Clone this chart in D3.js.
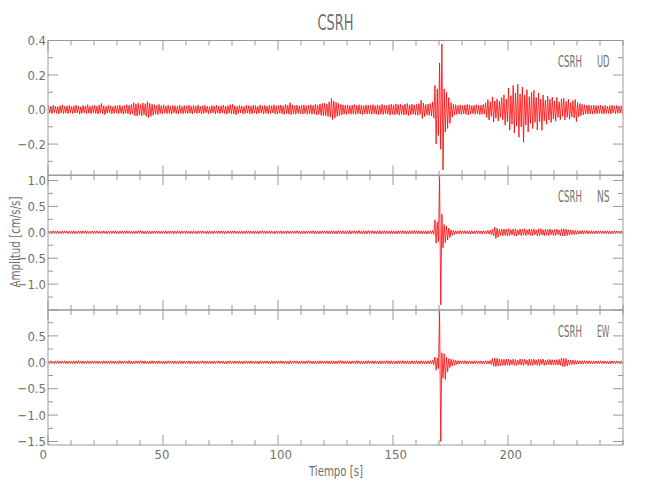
<!DOCTYPE html>
<html><head><meta charset="utf-8">
<script src="https://cdn.jsdelivr.net/npm/d3@7"></script>
<style>body{margin:0;background:#fff}</style>
</head><body><svg id="c" width="650" height="500"></svg>
<script>
// ---------- data ----------
const title = "CSRH";
const station = "CSRH";
const components = ["UD", "NS", "EW"];
const xLabel = "Tiempo [s]";
const yLabel = "Amplitud [cm/s/s]";
const binSeconds = 1;                 // each value = max/min over 1 s
const xDomain = [0, 250];
const xMajorTicks = [0, 50, 100, 150, 200];
const xMinorStep = 10;
const yDomains = [[-0.382, 0.4], [-1.5, 1.106], [-1.566, 0.99]];
const yTickLabels = [[-0.2, 0, 0.2, 0.4], [-1, -0.5, 0, 0.5, 1], [-1.5, -1, -0.5, 0, 0.5]];
const yMajorSteps = [0.2, 0.5, 0.5];
const yMinorSteps = [0.1, 0.25, 0.25];

const udMax = [
.022,.018,.025,.020,.017,.023,.027,.019,.021,.024,
.018,.022,.026,.020,.017,.023,.021,.028,.019,.022,
.024,.020,.027,.035,.022,.019,.025,.021,.018,.024,
.022,.026,.020,.023,.028,.025,.030,.040,.033,.036,
.029,.038,.034,.046,.037,.031,.028,.024,.030,.022,
.027,.021,.025,.019,.024,.022,.020,.026,.018,.023,
.021,.025,.019,.023,.020,.027,.018,.022,.024,.020,
.017,.023,.021,.025,.019,.022,.026,.020,.023,.028,
.030,.022,.019,.024,.021,.018,.025,.022,.020,.026,
.023,.019,.027,.021,.024,.020,.025,.022,.028,.021,
.024,.026,.022,.029,.025,.040,.027,.023,.026,.021,
.024,.027,.022,.025,.028,.024,.030,.026,.033,.035,
.038,.032,.045,.064,.050,.042,.036,.030,.028,.025,
.027,.023,.026,.029,.024,.028,.025,.022,.027,.024,
.026,.029,.023,.027,.025,.030,.026,.024,.028,.031,
.027,.033,.029,.030,.026,.032,.035,.028,.031,.027,
.030,.034,.054,.038,.029,.032,.035,.045,.140,.120,
.270,.380,.120,.100,.070,.040,.030,.028,.025,.027,
.024,.026,.030,.027,.023,.025,.028,.024,.026,.030,
.040,.058,.045,.073,.050,.062,.048,.070,.085,.060,
.125,.080,.140,.095,.146,.090,.130,.085,.115,.075,
.100,.112,.070,.095,.060,.085,.055,.078,.060,.072,
.050,.070,.045,.062,.066,.048,.060,.040,.052,.058,
.040,.035,.030,.028,.025,.027,.023,.026,.024,.022,
.025,.021,.024,.020,.023,.026,.021,.024,.020,.022];
const udMin = [
-.021,-.024,-.018,-.022,-.026,-.019,-.023,-.020,-.025,-.018,
-.023,-.020,-.019,-.027,-.022,-.018,-.024,-.021,-.025,-.019,
-.022,-.026,-.020,-.024,-.030,-.021,-.019,-.025,-.022,-.020,
-.024,-.021,-.027,-.022,-.025,-.029,-.026,-.035,-.038,-.032,
-.036,-.030,-.040,-.047,-.039,-.033,-.027,-.030,-.023,-.026,
-.020,-.024,-.022,-.027,-.019,-.023,-.025,-.021,-.024,-.020,
-.024,-.020,-.026,-.019,-.023,-.021,-.025,-.022,-.018,-.024,
-.022,-.019,-.025,-.021,-.024,-.020,-.023,-.027,-.021,-.025,
-.026,-.030,-.022,-.020,-.025,-.023,-.021,-.024,-.026,-.020,
-.025,-.022,-.020,-.026,-.021,-.024,-.023,-.019,-.025,-.027,
-.022,-.025,-.028,-.023,-.026,-.030,-.024,-.027,-.022,-.025,
-.026,-.023,-.028,-.024,-.027,-.025,-.031,-.028,-.034,-.036,
-.035,-.040,-.044,-.058,-.048,-.040,-.035,-.031,-.027,-.029,
-.024,-.027,-.025,-.028,-.023,-.026,-.029,-.024,-.026,-.025,
-.028,-.024,-.027,-.030,-.026,-.029,-.025,-.027,-.032,-.028,
-.030,-.027,-.032,-.028,-.031,-.029,-.034,-.030,-.027,-.031,
-.033,-.029,-.052,-.040,-.031,-.034,-.036,-.050,-.200,-.150,
-.230,-.350,-.130,-.110,-.080,-.045,-.032,-.028,-.026,-.029,
-.025,-.028,-.031,-.026,-.024,-.027,-.025,-.030,-.027,-.026,
-.045,-.060,-.040,-.072,-.050,-.066,-.045,-.060,-.090,-.070,
-.120,-.085,-.135,-.095,-.160,-.100,-.190,-.090,-.130,-.080,
-.110,-.075,-.118,-.070,-.120,-.065,-.085,-.060,-.075,-.055,
-.068,-.045,-.058,-.040,-.060,-.045,-.056,-.042,-.048,-.070,
-.042,-.036,-.031,-.027,-.026,-.024,-.027,-.023,-.025,-.022,
-.024,-.026,-.021,-.023,-.025,-.020,-.024,-.022,-.021,-.023];

const nsMax = [
.025,.020,.028,.022,.030,.019,.024,.027,.021,.026,
.023,.029,.020,.025,.022,.027,.031,.021,.024,.026,
.022,.028,.020,.025,.030,.023,.021,.026,.024,.029,
.021,.025,.027,.022,.032,.024,.020,.026,.023,.028,
.035,.024,.021,.027,.025,.022,.029,.023,.026,.020,
.024,.028,.022,.026,.021,.025,.030,.023,.027,.022,
.026,.021,.024,.029,.022,.025,.023,.027,.020,.024,
.028,.022,.025,.021,.026,.030,.023,.024,.027,.022,
.025,.029,.021,.024,.026,.022,.028,.023,.025,.021,
.027,.023,.026,.031,.022,.025,.024,.028,.021,.026,
.023,.027,.022,.025,.029,.024,.021,.026,.030,.023,
.025,.028,.022,.026,.024,.032,.027,.023,.025,.029,
.024,.030,.026,.035,.028,.025,.033,.027,.031,.024,
.029,.034,.026,.030,.027,.036,.025,.031,.028,.033,
.027,.030,.025,.029,.032,.026,.030,.028,.024,.031,
.028,.025,.030,.027,.033,.029,.026,.031,.028,.035,
.030,.027,.032,.028,.031,.026,.029,.035,.240,.200,
1.08,.350,.150,.120,.080,.050,.035,.030,.028,.032,
.027,.030,.025,.029,.032,.026,.030,.028,.025,.031,
.030,.035,.040,.060,.100,.080,.055,.060,.065,.058,
.070,.050,.065,.068,.045,.065,.058,.070,.048,.066,
.060,.068,.045,.064,.070,.050,.062,.056,.065,.048,
.055,.062,.046,.065,.070,.060,.050,.045,.040,.038,
.035,.032,.036,.030,.033,.028,.031,.027,.030,.026,
.029,.025,.028,.030,.026,.024,.029,.027,.025,.028];
const nsMin = [
-.022,-.027,-.021,-.025,-.020,-.028,-.023,-.019,-.026,-.022,
-.026,-.021,-.029,-.023,-.025,-.020,-.027,-.024,-.022,-.028,
-.025,-.020,-.027,-.023,-.021,-.029,-.024,-.026,-.022,-.025,
-.028,-.022,-.024,-.030,-.021,-.026,-.023,-.027,-.025,-.020,
-.024,-.031,-.026,-.022,-.028,-.025,-.021,-.027,-.023,-.026,
-.022,-.025,-.029,-.021,-.027,-.024,-.022,-.028,-.020,-.025,
-.027,-.023,-.026,-.021,-.028,-.022,-.025,-.020,-.026,-.029,
-.023,-.026,-.021,-.027,-.024,-.022,-.028,-.025,-.021,-.026,
-.024,-.022,-.027,-.025,-.021,-.029,-.023,-.026,-.022,-.027,
-.025,-.028,-.022,-.024,-.027,-.021,-.026,-.023,-.029,-.024,
-.022,-.026,-.028,-.023,-.025,-.021,-.027,-.024,-.022,-.028,
-.026,-.023,-.029,-.025,-.022,-.027,-.024,-.030,-.026,-.023,
-.028,-.025,-.031,-.027,-.024,-.033,-.026,-.029,-.025,-.030,
-.027,-.031,-.025,-.034,-.028,-.026,-.032,-.027,-.030,-.025,
-.029,-.026,-.032,-.027,-.030,-.025,-.031,-.028,-.026,-.030,
-.027,-.031,-.026,-.029,-.025,-.032,-.028,-.030,-.026,-.029,
-.031,-.027,-.030,-.026,-.033,-.028,-.030,-.040,-.210,-.180,
-1.40,-.300,-.200,-.150,-.100,-.060,-.040,-.032,-.029,-.027,
-.030,-.026,-.029,-.032,-.027,-.030,-.025,-.029,-.031,-.026,
-.029,-.033,-.045,-.070,-.120,-.090,-.060,-.065,-.058,-.070,
-.062,-.048,-.068,-.072,-.050,-.066,-.055,-.064,-.045,-.060,
-.066,-.048,-.070,-.062,-.050,-.068,-.055,-.064,-.048,-.066,
-.060,-.045,-.064,-.070,-.072,-.062,-.052,-.045,-.042,-.036,
-.034,-.030,-.033,-.028,-.031,-.027,-.030,-.026,-.029,-.025,
-.028,-.026,-.024,-.029,-.027,-.025,-.028,-.024,-.026,-.027];

const ewMax = [
.024,.028,.021,.026,.030,.022,.025,.027,.020,.026,
.023,.027,.025,.031,.022,.026,.024,.028,.021,.025,
.027,.022,.026,.024,.029,.021,.025,.028,.023,.026,
.025,.029,.022,.027,.024,.032,.026,.023,.028,.025,
.030,.024,.027,.022,.026,.029,.023,.025,.028,.021,
.026,.023,.028,.025,.022,.027,.024,.030,.023,.026,
.022,.027,.025,.029,.023,.026,.021,.028,.024,.025,
.027,.023,.026,.022,.029,.024,.027,.021,.025,.028,
.023,.026,.024,.028,.022,.027,.025,.023,.029,.024,
.026,.022,.028,.025,.023,.027,.024,.030,.022,.026,
.025,.028,.023,.026,.024,.029,.022,.027,.025,.023,
.028,.024,.026,.031,.025,.023,.027,.024,.029,.026,
.023,.027,.025,.030,.026,.024,.028,.032,.025,.027,
.029,.024,.027,.025,.031,.026,.028,.024,.027,.030,
.025,.028,.026,.023,.029,.027,.024,.030,.026,.028,
.027,.024,.029,.026,.031,.025,.028,.027,.030,.026,
.028,.025,.030,.027,.026,.029,.031,.040,.100,.080,
.990,.180,.160,.100,.070,.060,.050,.040,.032,.029,
.027,.030,.026,.028,.025,.029,.027,.024,.028,.026,
.030,.028,.035,.070,.080,.075,.065,.055,.060,.058,
.062,.045,.060,.052,.040,.063,.054,.060,.042,.062,
.055,.060,.042,.058,.054,.061,.040,.050,.055,.048,
.045,.050,.055,.080,.075,.070,.045,.040,.042,.036,
.033,.030,.028,.031,.027,.029,.026,.028,.025,.027,
.028,.025,.027,.024,.026,.028,.025,.027,.024,.026];
const ewMin = [
-.025,-.021,-.027,-.023,-.020,-.026,-.022,-.028,-.024,-.021,
-.026,-.023,-.029,-.022,-.025,-.027,-.021,-.024,-.026,-.022,
-.024,-.028,-.022,-.026,-.021,-.025,-.029,-.023,-.027,-.022,
-.026,-.023,-.028,-.021,-.025,-.027,-.030,-.024,-.022,-.026,
-.023,-.027,-.025,-.029,-.022,-.026,-.024,-.028,-.021,-.025,
-.027,-.022,-.025,-.023,-.028,-.024,-.026,-.021,-.027,-.023,
-.025,-.029,-.022,-.026,-.024,-.027,-.023,-.025,-.028,-.022,
-.026,-.024,-.028,-.023,-.025,-.021,-.026,-.029,-.023,-.025,
-.027,-.022,-.026,-.024,-.029,-.023,-.025,-.027,-.022,-.026,
-.024,-.028,-.023,-.026,-.022,-.025,-.029,-.024,-.027,-.023,
-.026,-.023,-.027,-.025,-.030,-.024,-.026,-.022,-.028,-.025,
-.023,-.027,-.025,-.022,-.028,-.026,-.024,-.029,-.023,-.027,
-.026,-.024,-.029,-.025,-.027,-.031,-.024,-.026,-.028,-.025,
-.027,-.030,-.025,-.028,-.024,-.029,-.026,-.031,-.025,-.028,
-.026,-.029,-.024,-.027,-.030,-.025,-.028,-.026,-.029,-.027,
-.029,-.026,-.028,-.031,-.025,-.027,-.030,-.026,-.028,-.029,
-.027,-.030,-.026,-.029,-.031,-.027,-.029,-.045,-.150,-.120,
-1.50,-.300,-.330,-.180,-.100,-.070,-.055,-.040,-.033,-.030,
-.028,-.026,-.029,-.027,-.030,-.025,-.028,-.026,-.029,-.027,
-.029,-.031,-.040,-.075,-.080,-.070,-.065,-.058,-.062,-.055,
-.060,-.044,-.056,-.060,-.042,-.055,-.060,-.040,-.064,-.056,
-.060,-.043,-.058,-.062,-.040,-.058,-.052,-.041,-.050,-.052,
-.048,-.052,-.058,-.080,-.078,-.070,-.048,-.042,-.040,-.035,
-.032,-.029,-.031,-.027,-.030,-.026,-.029,-.025,-.028,-.026,
-.027,-.029,-.025,-.028,-.026,-.024,-.027,-.025,-.028,-.026];

const seriesMax = [udMax, nsMax, ewMax];
const seriesMin = [udMin, nsMin, ewMin];

// ---------- layout ----------
const svg = d3.select("#c");
const L = 48, R = 623;
const panelTops = [40.5, 175, 310];
const panelH = 135;
const axisColor = "#999";
const textColor = "#707070";
const tickFont = "'Liberation Sans Narrow','DejaVu Sans Condensed','Arial Narrow',sans-serif";
const x = d3.scaleLinear().domain(xDomain).range([L, R]);
const fmt = d3.format(".1f");

svg.append("text").attr("x", (L + R) / 2).attr("y", 30)
  .attr("text-anchor", "middle").attr("font-family", tickFont)
  .attr("font-size", 21).attr("fill", textColor)
  .attr("textLength", 36).attr("lengthAdjust", "spacingAndGlyphs").text(title);

const defs = svg.append("defs");

components.forEach((comp, k) => {
  const top = panelTops[k], bot = top + panelH;
  const y = d3.scaleLinear().domain(yDomains[k]).range([bot, top]);
  const g = svg.append("g");

  defs.append("clipPath").attr("id", "clip" + k)
    .append("rect").attr("x", L).attr("y", top).attr("width", R - L).attr("height", panelH);

  // trace: min/max per bin drawn as a zig-zag line
  const pts = [];
  seriesMax[k].forEach((v, i) => {
    pts.push([i * binSeconds + 0.25 * binSeconds, v]);
    pts.push([i * binSeconds + 0.75 * binSeconds, seriesMin[k][i]]);
  });
  g.append("path").datum(pts)
    .attr("clip-path", `url(#clip${k})`)
    .attr("fill", "none").attr("stroke", "#ff0000").attr("stroke-width", 0.8)
    .attr("stroke-linejoin", "bevel")
    .attr("d", d3.line().x(d => x(d[0])).y(d => y(d[1])));

  // frame
  g.append("rect").attr("x", L).attr("y", top).attr("width", R - L).attr("height", panelH)
    .attr("fill", "none").attr("stroke", axisColor).attr("stroke-width", 1);

  // x ticks (top & bottom, inward)
  const xMinor = d3.range(xDomain[0], xDomain[1] + 0.001, xMinorStep);
  xMinor.forEach(t => {
    const major = xMajorTicks.includes(t) ;
    const len = major ? 10 : 5;
    g.append("line").attr("x1", x(t)).attr("x2", x(t)).attr("y1", bot).attr("y2", bot - len)
      .attr("stroke", axisColor);
    g.append("line").attr("x1", x(t)).attr("x2", x(t)).attr("y1", top).attr("y2", top + len)
      .attr("stroke", axisColor);
  });

  // y ticks (left & right, inward)
  const [d0, d1] = yDomains[k];
  const ms = yMinorSteps[k], Ms = yMajorSteps[k];
  for (let v = Math.ceil(d0 / ms - 1e-6) * ms; v <= d1 + 1e-6; v += ms) {
    const vv = Math.round(v / ms) * ms;
    const major = Math.abs(vv / Ms - Math.round(vv / Ms)) < 1e-6;
    const len = major ? 10 : 5;
    g.append("line").attr("x1", L).attr("x2", L + len).attr("y1", y(vv)).attr("y2", y(vv)).attr("stroke", axisColor);
    g.append("line").attr("x1", R).attr("x2", R - len).attr("y1", y(vv)).attr("y2", y(vv)).attr("stroke", axisColor);
  }
  yTickLabels[k].forEach(v => {
    g.append("text").attr("x", L - 2).attr("y", y(v)).attr("dy", "0.36em")
      .attr("text-anchor", "end").attr("font-family", tickFont).attr("font-size", 13)
      .attr("fill", textColor).text(fmt(v));
  });

  // panel label
  g.append("text").attr("x", 558).attr("y", top + 26.5)
    .attr("font-family", tickFont).attr("font-size", 15).attr("fill", textColor)
    .attr("textLength", 24).attr("lengthAdjust", "spacingAndGlyphs").text(station);
  g.append("text").attr("x", 609.5).attr("y", top + 26.5).attr("text-anchor", "end")
    .attr("font-family", tickFont).attr("font-size", 15).attr("fill", textColor)
    .attr("textLength", 12.5).attr("lengthAdjust", "spacingAndGlyphs").text(comp);

  // x tick labels on bottom panel
  if (k === components.length - 1) {
    xMajorTicks.forEach(t => {
      g.append("text").attr("x", x(t) - 8.5).attr("y", bot + 14)
        .attr("font-family", tickFont).attr("font-size", 13).attr("fill", textColor)
        .text(String(t));
    });
  }
});

svg.append("text").attr("x", 336).attr("y", 476)
  .attr("text-anchor", "middle").attr("font-family", tickFont).attr("font-size", 14)
  .attr("fill", textColor).attr("textLength", 54).attr("lengthAdjust", "spacingAndGlyphs")
  .attr("xml:space", "preserve").text(xLabel);

svg.append("text").attr("transform", "translate(20,242) rotate(-90)")
  .attr("text-anchor", "middle").attr("font-family", tickFont).attr("font-size", 14)
  .attr("fill", textColor).attr("textLength", 91).attr("lengthAdjust", "spacingAndGlyphs")
  .text(yLabel);
</script></body></html>
